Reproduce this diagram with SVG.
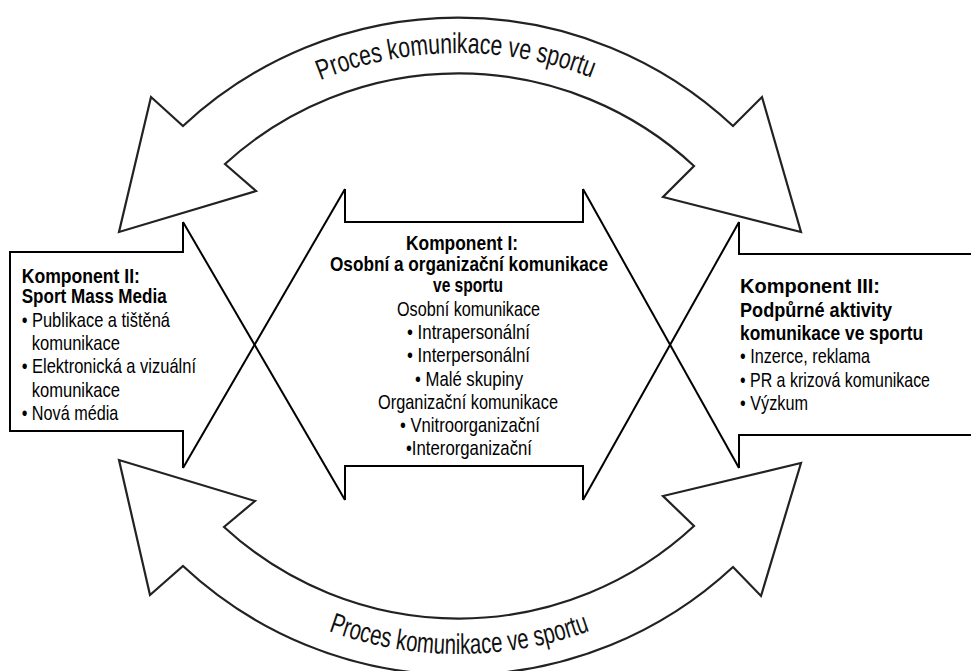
<svg xmlns="http://www.w3.org/2000/svg" width="971" height="671" viewBox="0 0 971 671">
<style>
.arc{fill:#fff;stroke:#222;stroke-width:2.2;stroke-linejoin:miter}
.ln{fill:none;stroke:#000;stroke-width:2;stroke-linejoin:miter}
.b{font-family:"Liberation Sans",Arial,sans-serif;font-weight:bold;font-size:20.5px;fill:#000}
.r{font-family:"Liberation Sans",Arial,sans-serif;font-size:21px;fill:#000}
.at{font-family:"Liberation Sans",Arial,sans-serif;font-size:28.5px;fill:#111}
</style>
<defs>
<path id="topPath" d="M92,420 A367,367 0 0 1 826,420"/>
<path id="botPath" d="M77,272 A382,382 0 0 0 841,272"/>
</defs>
<rect width="971" height="671" fill="#fff"/>
<g id="connectors">
<g id="proces-top">
<path class="arc" d="M183,126 A403,403 0 0 1 733,126 L762,97 L801,232 L663,197 L694,166 A346,346 0 0 0 225,164 L256,191 L119,232 L151,97 Z"/>
<text class="at"><textPath href="#topPath" startOffset="573" text-anchor="middle" textLength="278" lengthAdjust="spacingAndGlyphs">Proces komunikace ve sportu</textPath></text>
</g>
<g id="proces-bottom">
<path class="arc" d="M183,566 A403,403 0 0 0 733,567 L761,596 L801,463 L663,496 L694,526 A346,346 0 0 1 224,527 L255,501 L119,460 L150,595 Z"/>
<text class="at"><textPath href="#botPath" startOffset="600" text-anchor="middle" textLength="267" lengthAdjust="spacingAndGlyphs">Proces komunikace ve sportu</textPath></text>
</g>
<path class="ln" d="M183,468 L345,189"/>
<path class="ln" d="M183,222 L345,500"/>
<path class="ln" d="M583,189 L739,468"/>
<path class="ln" d="M583,500 L739,222"/>
</g>
<g id="komponent-1">
<path class="ln" d="M345,189 L345,222 L583,222 L583,189"/>
<path class="ln" d="M345,500 L345,466 L583,466 L583,500"/>
<text class="b" x="406" y="250" textLength="112" lengthAdjust="spacingAndGlyphs">Komponent I:</text>
<text class="b" x="330" y="271" textLength="278" lengthAdjust="spacingAndGlyphs">Osobní a organizační komunikace</text>
<text class="b" x="433" y="292" textLength="70" lengthAdjust="spacingAndGlyphs">ve sportu</text>
<text class="r" x="397" y="316" textLength="143" lengthAdjust="spacingAndGlyphs">Osobní komunikace</text>
<text class="r" x="407" y="339.2" textLength="123" lengthAdjust="spacingAndGlyphs">• Intrapersonální</text>
<text class="r" x="407" y="362.4" textLength="123" lengthAdjust="spacingAndGlyphs">• Interpersonální</text>
<text class="r" x="415" y="385.6" textLength="108" lengthAdjust="spacingAndGlyphs">• Malé skupiny</text>
<text class="r" x="378" y="408.8" textLength="180" lengthAdjust="spacingAndGlyphs">Organizační komunikace</text>
<text class="r" x="400" y="432" textLength="140" lengthAdjust="spacingAndGlyphs">• Vnitroorganizační</text>
<text class="r" x="406" y="455.2" textLength="126" lengthAdjust="spacingAndGlyphs">•Interorganizační</text>
</g>
<g id="komponent-2">
<path class="ln" d="M183,222 L183,252 L10,252 L10,431 L183,431 L183,468"/>
<text class="b" x="21.7" y="283.3" textLength="118.3" lengthAdjust="spacingAndGlyphs">Komponent II:</text>
<text class="b" x="21.7" y="303.3" textLength="145" lengthAdjust="spacingAndGlyphs">Sport Mass Media</text>
<text class="r" x="21.7" y="326.7" textLength="148.3" lengthAdjust="spacingAndGlyphs">• Publikace a tištěná</text>
<text class="r" x="31.7" y="350" textLength="88.3" lengthAdjust="spacingAndGlyphs">komunikace</text>
<text class="r" x="21.7" y="373.3" textLength="174.3" lengthAdjust="spacingAndGlyphs">• Elektronická a vizuální</text>
<text class="r" x="31.7" y="396.7" textLength="88.3" lengthAdjust="spacingAndGlyphs">komunikace</text>
<text class="r" x="21.7" y="420" textLength="96.6" lengthAdjust="spacingAndGlyphs">• Nová média</text>
</g>
<g id="komponent-3">
<path class="ln" d="M739,222 L739,254 L971,254"/>
<path class="ln" d="M739,468 L739,435 L971,435"/>
<text class="b" x="740" y="293.3" textLength="140" lengthAdjust="spacingAndGlyphs">Komponent III:</text>
<text class="b" x="740" y="316.7" textLength="152" lengthAdjust="spacingAndGlyphs">Podpůrné aktivity</text>
<text class="b" x="740" y="340" textLength="183" lengthAdjust="spacingAndGlyphs">komunikace ve sportu</text>
<text class="r" x="740" y="363.3" textLength="130" lengthAdjust="spacingAndGlyphs">• Inzerce, reklama</text>
<text class="r" x="740" y="386.7" textLength="190" lengthAdjust="spacingAndGlyphs">• PR a krizová komunikace</text>
<text class="r" x="740" y="410" textLength="68" lengthAdjust="spacingAndGlyphs">• Výzkum</text>
</g>
</svg>
